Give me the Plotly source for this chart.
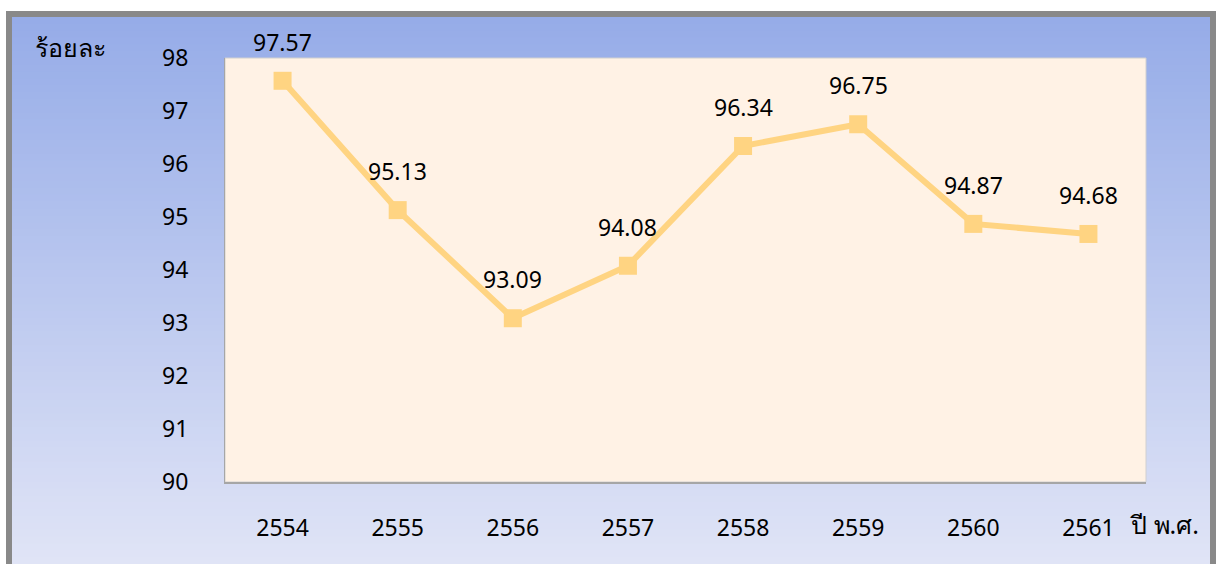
import plotly.graph_objects as go

years = ["2554", "2555", "2556", "2557", "2558", "2559", "2560", "2561"]
values = [97.57, 95.13, 93.09, 94.08, 96.34, 96.75, 94.87, 94.68]
y_ticks = [90, 91, 92, 93, 94, 95, 96, 97, 98]
LABEL_SHIFT = 39

W, H = 1216, 564
L, R, T, B = 225, 70, 58, 82
pw, ph = W - L - R, H - T - B

def px(x):
    return (x - L) / pw

def py(y):
    return (H - B - y) / ph

FONT = "Noto Sans, Tahoma, DejaVu Sans, sans-serif"

fig = go.Figure()
fig.add_trace(go.Scatter(
    x=years, y=values, mode="lines+markers",
    line=dict(color="#FFD482", width=6),
    marker=dict(symbol="square", size=18, color="#FFD482"),
    hoverinfo="x+y", showlegend=False,
))

for i, v in enumerate(values):
    fig.add_annotation(x=i, y=v, text=f"{v:.2f}", showarrow=False, yshift=LABEL_SHIFT,
                       font=dict(family=FONT, size=23, color="#000000"))

shapes = []
shapes.append(dict(type="rect", xref="paper", yref="paper", layer="below",
                   x0=px(6), x1=px(1216), y0=py(11), y1=py(600),
                   fillcolor="#898989", line=dict(width=0)))
top = (150, 172, 232)
bot = (224, 228, 246)
y_start, y_end = 17, 564
n = 80
for i in range(n):
    t = i / (n - 1)
    c = tuple(round(top[k] + (bot[k] - top[k]) * t) for k in range(3))
    ya = y_start + (y_end - y_start) * i / n
    yb = y_start + (y_end - y_start) * (i + 1) / n + 1
    shapes.append(dict(type="rect", xref="paper", yref="paper", layer="below",
                       x0=px(12), x1=px(1210), y0=py(ya), y1=py(yb),
                       fillcolor="rgb(%d,%d,%d)" % c, line=dict(width=0)))
shapes.append(dict(type="rect", xref="paper", yref="paper", layer="below",
                   x0=0, x1=1, y0=0, y1=1,
                   fillcolor="#FFF2E5", line=dict(color="#D0D0D0", width=1)))
fig.update_layout(shapes=shapes)

fig.add_annotation(xref="paper", yref="paper", x=px(33), y=py(47), xanchor="left",
                   yanchor="middle", text="ร้อยละ", showarrow=False,
                   font=dict(family=FONT, size=25, color="#000000"))
fig.add_annotation(xref="paper", yref="paper", x=px(1128), y=py(524), xanchor="left",
                   yanchor="middle", text="ปี พ.ศ.", showarrow=False,
                   font=dict(family=FONT, size=25, color="#000000"))

fig.update_layout(
    width=W, height=H,
    margin=dict(l=L, r=R, t=T, b=B),
    paper_bgcolor="#FFFFFF",
    plot_bgcolor="rgba(0,0,0,0)",
    font=dict(family=FONT, size=23, color="#000000"),
    xaxis=dict(type="category", range=[-0.5, 7.5], showgrid=False, zeroline=False,
               showline=True, linecolor="#A6A6A6", linewidth=2, ticks="",
               ticklabelstandoff=24, tickfont=dict(size=23)),
    yaxis=dict(range=[90, 98], tickvals=y_ticks, showgrid=False, zeroline=False,
               showline=True, linecolor="#A6A6A6", linewidth=1, ticks="",
               ticklabelstandoff=31, tickfont=dict(size=23)),
)

fig.write_html("out.html", config={"displayModeBar": False},
               post_script="document.body.style.margin='0';document.body.style.overflow='hidden';")
